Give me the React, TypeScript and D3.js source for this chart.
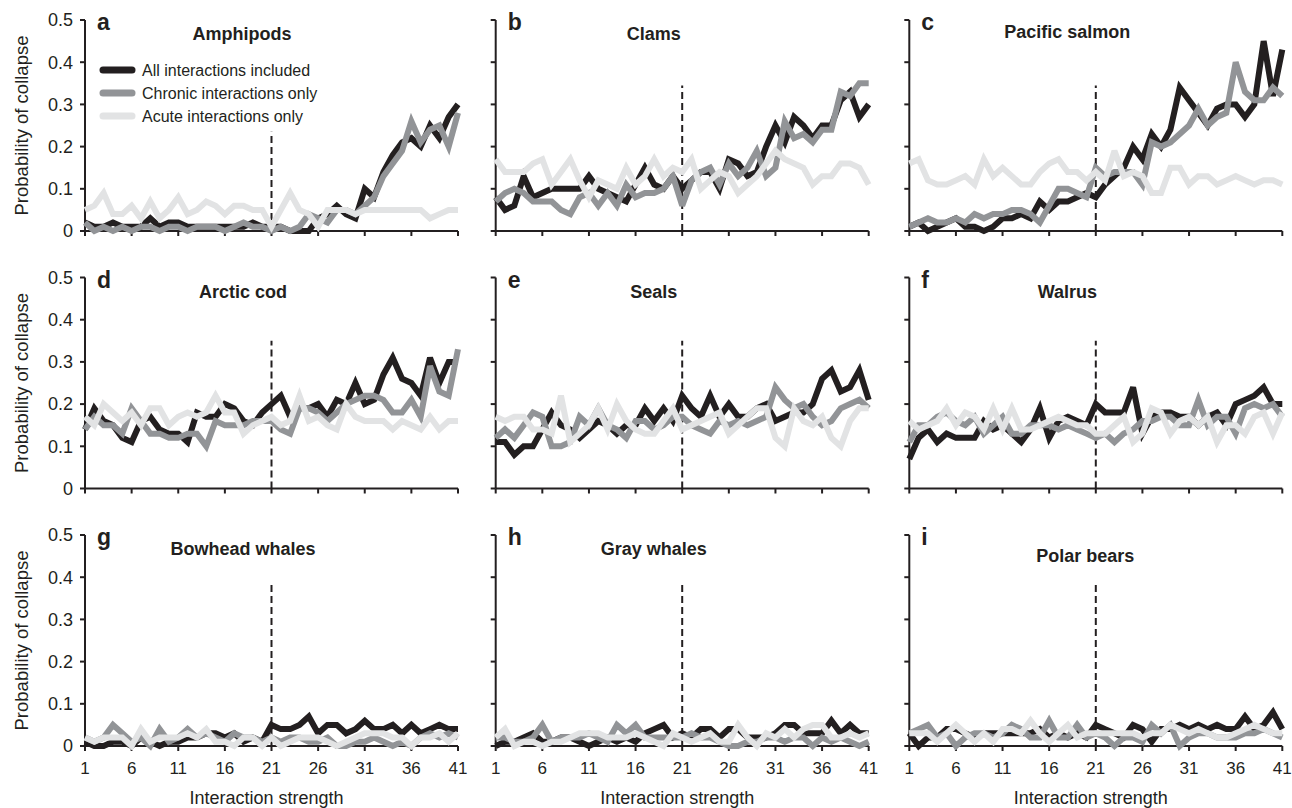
import React from 'react'
import * as d3 from 'd3'

// interaction strength 1..41
const xs = d3.range(1, 42)
const xTicks = [1, 6, 11, 16, 21, 26, 31, 36, 41]
const yTicks = [0, 0.1, 0.2, 0.3, 0.4, 0.5]
const yTickLabels = ['0', '0.1', '0.2', '0.3', '0.4', '0.5']

const seriesNames = ['All interactions included', 'Chronic interactions only', 'Acute interactions only']
const seriesColors = ['#231f20', '#929497', '#e2e3e4']

const panelLetters = ['a', 'b', 'c', 'd', 'e', 'f', 'g', 'h', 'i']
const panelTitles = ['Amphipods', 'Clams', 'Pacific salmon', 'Arctic cod', 'Seals', 'Walrus', 'Bowhead whales', 'Gray whales', 'Polar bears']
const dashTop = [0.235, 0.345, 0.345, 0.35, 0.35, 0.35, 0.39, 0.39, 0.39]

const aAll = [0.02,0.01,0.01,0.02,0.01,0.01,0.01,0.03,0.01,0.02,0.02,0.01,0.01,0.01,0.01,0.01,0.01,0.01,0.02,0.01,0.01,0.01,0.0,0.0,0.0,0.03,0.04,0.06,0.04,0.03,0.1,0.08,0.14,0.18,0.21,0.22,0.2,0.25,0.22,0.27,0.3]
const aChronic = [0.02,0.0,0.01,0.0,0.01,0.0,0.01,0.01,0.0,0.01,0.01,0.0,0.01,0.01,0.01,0.0,0.01,0.02,0.01,0.01,0.0,0.01,0.0,0.01,0.04,0.03,0.02,0.05,0.05,0.04,0.06,0.08,0.13,0.16,0.19,0.26,0.21,0.24,0.25,0.2,0.28]
const aAcute = [0.05,0.06,0.09,0.04,0.04,0.06,0.03,0.07,0.03,0.05,0.08,0.04,0.05,0.07,0.06,0.04,0.06,0.06,0.05,0.05,0.01,0.05,0.09,0.05,0.04,0.01,0.05,0.05,0.05,0.04,0.05,0.05,0.05,0.05,0.05,0.05,0.05,0.03,0.04,0.05,0.05]

const bAll = [0.08,0.05,0.06,0.13,0.08,0.09,0.1,0.1,0.1,0.1,0.13,0.1,0.09,0.08,0.07,0.11,0.15,0.11,0.1,0.13,0.1,0.12,0.14,0.14,0.1,0.17,0.16,0.13,0.14,0.2,0.25,0.21,0.27,0.25,0.22,0.25,0.25,0.31,0.33,0.27,0.3]
const bChronic = [0.07,0.09,0.1,0.09,0.07,0.07,0.07,0.05,0.04,0.08,0.09,0.06,0.09,0.06,0.11,0.08,0.09,0.09,0.1,0.13,0.06,0.12,0.14,0.15,0.11,0.16,0.13,0.15,0.19,0.13,0.15,0.26,0.22,0.23,0.21,0.24,0.24,0.33,0.32,0.35,0.35]
const bAcute = [0.17,0.14,0.14,0.14,0.16,0.17,0.11,0.14,0.17,0.12,0.08,0.12,0.11,0.1,0.15,0.11,0.13,0.17,0.13,0.15,0.14,0.17,0.1,0.12,0.14,0.13,0.09,0.11,0.13,0.16,0.19,0.17,0.16,0.15,0.11,0.13,0.13,0.16,0.16,0.15,0.11]

const cAll = [0.01,0.02,0.0,0.01,0.02,0.03,0.01,0.01,0.0,0.01,0.03,0.03,0.04,0.03,0.07,0.05,0.07,0.07,0.08,0.09,0.08,0.11,0.13,0.15,0.2,0.17,0.23,0.2,0.24,0.34,0.31,0.28,0.25,0.29,0.3,0.3,0.27,0.3,0.45,0.32,0.43]
const cChronic = [0.01,0.02,0.03,0.02,0.02,0.03,0.02,0.04,0.03,0.04,0.04,0.05,0.05,0.04,0.02,0.06,0.1,0.1,0.09,0.08,0.15,0.13,0.14,0.14,0.14,0.11,0.21,0.2,0.21,0.23,0.25,0.29,0.25,0.27,0.28,0.4,0.33,0.31,0.31,0.34,0.32]
const cAcute = [0.16,0.17,0.12,0.11,0.11,0.12,0.13,0.11,0.17,0.13,0.15,0.13,0.11,0.11,0.14,0.16,0.17,0.14,0.14,0.12,0.14,0.12,0.19,0.13,0.14,0.13,0.09,0.09,0.15,0.15,0.11,0.13,0.13,0.11,0.12,0.13,0.12,0.11,0.12,0.12,0.11]

const dAll = [0.14,0.19,0.16,0.15,0.12,0.11,0.16,0.17,0.14,0.13,0.13,0.11,0.18,0.17,0.17,0.2,0.19,0.16,0.15,0.18,0.2,0.22,0.17,0.19,0.19,0.2,0.17,0.21,0.2,0.25,0.2,0.21,0.27,0.31,0.26,0.25,0.22,0.31,0.25,0.3,0.3]
const dChronic = [0.14,0.17,0.15,0.15,0.13,0.19,0.16,0.13,0.13,0.12,0.12,0.13,0.13,0.1,0.16,0.15,0.15,0.15,0.16,0.16,0.16,0.14,0.13,0.19,0.19,0.18,0.16,0.18,0.2,0.21,0.22,0.22,0.21,0.18,0.18,0.21,0.17,0.29,0.23,0.22,0.33]
const dAcute = [0.17,0.15,0.2,0.18,0.16,0.18,0.15,0.19,0.19,0.15,0.17,0.18,0.17,0.18,0.22,0.18,0.18,0.13,0.15,0.16,0.17,0.15,0.16,0.22,0.16,0.17,0.15,0.14,0.2,0.17,0.16,0.16,0.16,0.14,0.16,0.15,0.14,0.17,0.14,0.16,0.16]

const eAll = [0.11,0.11,0.08,0.1,0.1,0.14,0.18,0.15,0.14,0.12,0.14,0.16,0.15,0.13,0.15,0.15,0.19,0.16,0.19,0.16,0.22,0.19,0.17,0.22,0.17,0.2,0.17,0.17,0.19,0.2,0.16,0.17,0.18,0.18,0.2,0.26,0.28,0.23,0.24,0.28,0.21]
const eChronic = [0.12,0.14,0.12,0.15,0.18,0.17,0.1,0.1,0.11,0.17,0.15,0.19,0.15,0.14,0.12,0.16,0.16,0.14,0.15,0.17,0.17,0.15,0.14,0.13,0.16,0.15,0.16,0.15,0.16,0.17,0.24,0.21,0.19,0.2,0.17,0.15,0.16,0.19,0.2,0.21,0.19]
const eAcute = [0.17,0.16,0.17,0.17,0.14,0.14,0.13,0.22,0.11,0.13,0.15,0.19,0.14,0.2,0.16,0.14,0.13,0.13,0.16,0.19,0.14,0.15,0.16,0.17,0.18,0.13,0.15,0.17,0.19,0.19,0.12,0.1,0.19,0.16,0.15,0.17,0.12,0.1,0.16,0.19,0.19]

const fAll = [0.07,0.12,0.14,0.11,0.13,0.12,0.12,0.12,0.16,0.14,0.15,0.13,0.11,0.14,0.19,0.12,0.16,0.17,0.16,0.15,0.2,0.18,0.18,0.18,0.24,0.13,0.17,0.18,0.18,0.17,0.17,0.15,0.17,0.18,0.15,0.2,0.21,0.22,0.24,0.2,0.2]
const fChronic = [0.11,0.15,0.15,0.17,0.18,0.16,0.15,0.17,0.13,0.15,0.17,0.13,0.13,0.15,0.15,0.15,0.14,0.15,0.14,0.13,0.12,0.13,0.11,0.13,0.14,0.16,0.16,0.17,0.17,0.15,0.15,0.21,0.15,0.17,0.17,0.13,0.19,0.2,0.19,0.2,0.17]
const fAcute = [0.16,0.14,0.15,0.16,0.19,0.15,0.18,0.17,0.14,0.19,0.14,0.19,0.14,0.14,0.15,0.16,0.17,0.16,0.15,0.15,0.13,0.13,0.15,0.17,0.11,0.13,0.19,0.18,0.13,0.16,0.17,0.15,0.17,0.11,0.15,0.15,0.13,0.17,0.18,0.13,0.18]

const gAll = [0.01,0.0,0.0,0.01,0.01,0.0,0.02,0.01,0.0,0.01,0.01,0.02,0.02,0.03,0.03,0.02,0.03,0.01,0.02,0.01,0.05,0.04,0.04,0.05,0.07,0.03,0.05,0.05,0.03,0.04,0.06,0.04,0.04,0.05,0.03,0.05,0.03,0.04,0.05,0.04,0.04]
const gChronic = [0.02,0.01,0.02,0.05,0.03,0.01,0.02,0.0,0.04,0.01,0.02,0.04,0.02,0.03,0.02,0.01,0.03,0.02,0.02,0.01,0.02,0.01,0.02,0.02,0.01,0.01,0.02,0.0,0.0,0.01,0.01,0.02,0.01,0.0,0.01,0.0,0.02,0.03,0.02,0.03,0.02]
const gAcute = [0.02,0.01,0.02,0.02,0.02,0.0,0.04,0.01,0.02,0.02,0.02,0.03,0.02,0.04,0.01,0.01,0.0,0.02,0.02,0.0,0.02,0.0,0.01,0.02,0.02,0.02,0.01,0.0,0.01,0.02,0.03,0.03,0.03,0.02,0.02,0.0,0.02,0.02,0.03,0.01,0.03]

const hAll = [0.0,0.01,0.01,0.02,0.03,0.01,0.01,0.02,0.02,0.01,0.0,0.01,0.02,0.01,0.02,0.01,0.03,0.04,0.05,0.02,0.03,0.02,0.04,0.04,0.02,0.04,0.04,0.02,0.02,0.02,0.03,0.05,0.05,0.03,0.03,0.03,0.06,0.03,0.05,0.03,0.03]
const hChronic = [0.02,0.02,0.01,0.01,0.02,0.05,0.01,0.02,0.02,0.02,0.03,0.02,0.01,0.05,0.03,0.05,0.02,0.02,0.02,0.02,0.02,0.03,0.02,0.02,0.01,0.0,0.0,0.01,0.01,0.02,0.02,0.01,0.02,0.02,0.0,0.02,0.01,0.02,0.01,0.0,0.01]
const hAcute = [0.02,0.04,0.0,0.01,0.01,0.0,0.01,0.01,0.02,0.03,0.03,0.03,0.02,0.02,0.02,0.03,0.02,0.01,0.0,0.03,0.02,0.01,0.02,0.03,0.01,0.01,0.05,0.02,0.0,0.03,0.02,0.04,0.02,0.04,0.05,0.05,0.02,0.02,0.03,0.02,0.03]

const iAll = [0.03,0.0,0.02,0.02,0.04,0.04,0.03,0.02,0.03,0.03,0.03,0.03,0.03,0.03,0.04,0.02,0.03,0.02,0.03,0.02,0.05,0.04,0.03,0.02,0.05,0.04,0.01,0.04,0.04,0.05,0.04,0.05,0.04,0.05,0.04,0.04,0.07,0.04,0.05,0.08,0.04]
const iChronic = [0.03,0.04,0.05,0.02,0.03,0.0,0.02,0.03,0.03,0.02,0.03,0.05,0.04,0.02,0.02,0.06,0.02,0.02,0.05,0.02,0.03,0.02,0.0,0.02,0.02,0.01,0.05,0.03,0.05,0.0,0.02,0.03,0.03,0.02,0.02,0.02,0.03,0.03,0.04,0.03,0.02]
const iAcute = [0.03,0.03,0.03,0.01,0.03,0.05,0.03,0.01,0.03,0.01,0.04,0.04,0.03,0.06,0.03,0.01,0.03,0.05,0.02,0.03,0.03,0.03,0.03,0.03,0.03,0.02,0.03,0.03,0.05,0.04,0.03,0.04,0.03,0.02,0.02,0.03,0.04,0.05,0.04,0.03,0.03]

const panelData = [
  [aAll, aChronic, aAcute],
  [bAll, bChronic, bAcute],
  [cAll, cChronic, cAcute],
  [dAll, dChronic, dAcute],
  [eAll, eChronic, eAcute],
  [fAll, fChronic, fAcute],
  [gAll, gChronic, gAcute],
  [hAll, hChronic, hAcute],
  [iAll, iChronic, iAcute],
]

// layout
const colX = [85, 495.7, 909.3]
const rowY = [20, 277.5, 535]
const plotW = 373
const plotH = 211
const titleOffset = [[157, 20], [158, 20], [158, 18], [158, 20], [158, 20], [158, 20], [158, 20], [158, 20], [176, 27]]

const ink = '#231f20'
const font = 'Liberation Sans, Arial, Helvetica, sans-serif'

const x = d3.scaleLinear().domain([1, 41]).range([0, plotW])
const y = d3.scaleLinear().domain([0, 0.5]).range([plotH, 0])
const line = d3.line<number>().x((_, i) => x(xs[i])).y(d => y(d))

const Panel = ({ idx }: { idx: number }) => {
  const col = idx % 3
  const row = Math.floor(idx / 3)
  const tx = colX[col]
  const ty = rowY[row]
  const series = panelData[idx]
  return (
    <g transform={`translate(${tx},${ty})`}>
      {/* y axis */}
      <line x1={0} x2={0} y1={0} y2={plotH} stroke={ink} strokeWidth={2} />
      {yTicks.map((t, i) => (
        <g key={t}>
          <line x1={-5} x2={0} y1={y(t)} y2={y(t)} stroke={ink} strokeWidth={2} />
          {col === 0 && (
            <text x={-12} y={y(t)} dy="0.35em" textAnchor="end" fontSize={18} fill={ink}>{yTickLabels[i]}</text>
          )}
        </g>
      ))}
      {/* x axis */}
      <line x1={0} x2={plotW} y1={plotH} y2={plotH} stroke={ink} strokeWidth={2} />
      {xTicks.map(t => (
        <g key={t}>
          <line x1={x(t)} x2={x(t)} y1={plotH} y2={plotH + 5} stroke={ink} strokeWidth={2} />
          {row === 2 && (
            <text x={x(t)} y={plotH + 22} dy="0.35em" textAnchor="middle" fontSize={17} fill={ink}>{t}</text>
          )}
        </g>
      ))}
      {/* dashed marker at 21 */}
      <line x1={x(21)} x2={x(21)} y1={plotH} y2={y(dashTop[idx])} stroke={ink} strokeWidth={2} strokeDasharray="7,4" />
      {series.map((s, k) => (
        <path key={k} d={line(s) || ''} fill="none" stroke={seriesColors[k]} strokeWidth={6} strokeLinejoin="miter" strokeMiterlimit={3} />
      ))}
      <text x={12} y={10} fontSize={23} fontWeight="bold" fill={ink}>{panelLetters[idx]}</text>
      <text x={titleOffset[idx][0]} y={titleOffset[idx][1]} textAnchor="middle" fontSize={18} fontWeight="bold" fill={ink}>{panelTitles[idx]}</text>
      {row === 2 && (
        <text x={plotW / 2 - 5} y={plotH + 52} dy="0.35em" textAnchor="middle" fontSize={18} fill={ink}>Interaction strength</text>
      )}
    </g>
  )
}

const Legend = () => (
  <g transform={`translate(${colX[0]},${rowY[0]})`}>
    {seriesNames.map((n, k) => (
      <g key={n} transform={`translate(0,${50 + k * 23})`}>
        <line x1={18} x2={47} y1={0} y2={0} stroke={seriesColors[k]} strokeWidth={7} strokeLinecap="round" />
        <text x={57} y={0} dy="0.35em" fontSize={16} fill={ink}>{n}</text>
      </g>
    ))}
  </g>
)

export default function App() {
  return (
    <svg width={1292} height={808} style={{ position: 'absolute', left: 0, top: 0, background: '#fff' }} fontFamily={font}>
      {panelTitles.map((_, i) => <Panel key={i} idx={i} />)}
      <Legend />
      {rowY.map((ry, r) => (
        <text key={r} transform={`translate(22,${ry + plotH / 2}) rotate(-90)`} dy="0.35em" textAnchor="middle" fontSize={18.5} fill={ink}>
          Probability of collapse
        </text>
      ))}
    </svg>
  )
}
